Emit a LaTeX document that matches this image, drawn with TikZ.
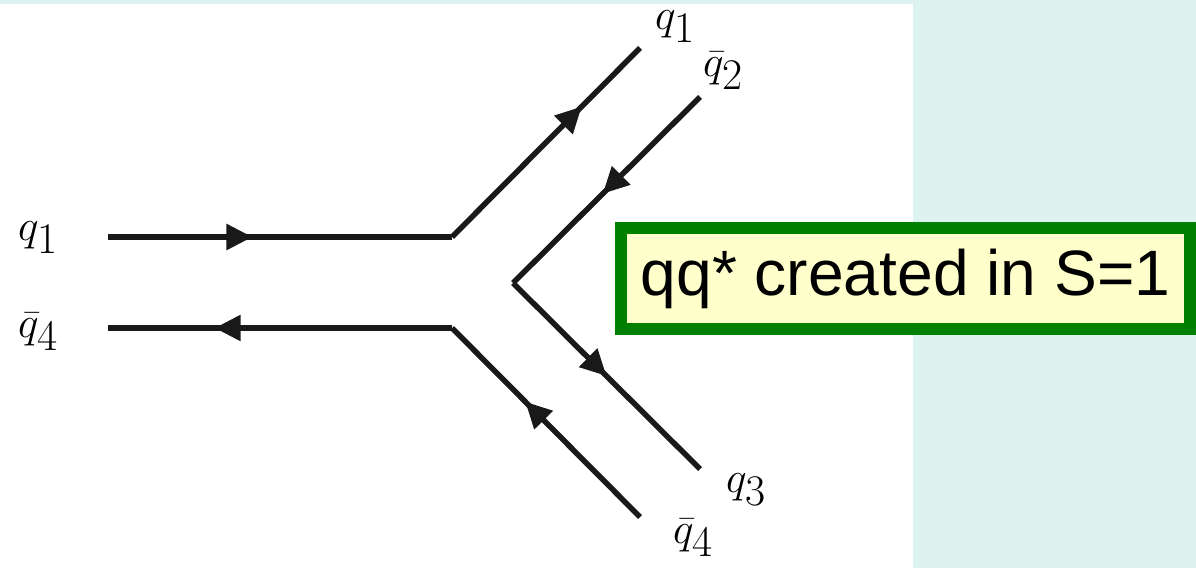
\documentclass[tikz,border=0pt]{standalone}
\usepackage{fontspec}
\newfontfamily\boxfont{Liberation Sans}
\usetikzlibrary{arrows.meta,decorations.markings}
\definecolor{panelbg}{HTML}{DDF3F0}
\definecolor{boxgreen}{HTML}{008000}
\definecolor{boxyellow}{HTML}{FFFFCC}

\begin{document}
\begin{tikzpicture}[
    x=0.02cm, y=-0.02cm,
    quark/.style={line width=0.11cm, draw=black!90},
    mid arrow/.style={postaction={decorate}, decoration={markings,
        mark=at position #1 with {\arrow{Triangle[length=0.52cm,width=0.5cm]}}}},
    lbl/.style={font=\fontsize{35}{40}\selectfont, inner sep=0pt},
    callout/.style={draw=boxgreen, line width=0.24cm, fill=boxyellow,
        font=\boxfont\fontsize{36.5}{42}\selectfont, inner sep=0pt,
        minimum width=11.38cm, minimum height=2.02cm}
]

% page and slide panel
\fill[panelbg] (0,0) rectangle (1196,568);
\fill[white] (0,4) rectangle (913,568);

% vertices and free ends
\coordinate (in1) at (108,237);
\coordinate (in4) at (108,328);
\coordinate (vup) at (452,237);
\coordinate (vlo) at (452,328);
\coordinate (vpair) at (513,283);
\coordinate (out1) at (640,48);
\coordinate (out2) at (700,97);
\coordinate (out3) at (700,469);
\coordinate (out4) at (640,517);

\draw[quark, mid arrow=0.42] (in1) -- (vup);
\draw[quark, mid arrow=0.69] (vup) -- (out1);
\draw[quark, mid arrow=0.69] (vlo) -- (in4);
\draw[quark, mid arrow=0.61] (out4) -- (vlo);
\draw[quark, mid arrow=0.52] (out2) -- (vpair);
\draw[quark, mid arrow=0.50] (vpair) -- (out3);

% labels
\node[lbl] (lq1) at (38,238) {$q_1$};
\node[lbl] (lq4) at (38,332) {$\bar q_4$};
\node[lbl] (tq1) at (675,27) {$q_1$};
\node[lbl] (tq2) at (723,71) {$\bar q_2$};
\node[lbl] (bq3) at (746,490) {$q_3$};
\node[lbl] (bq4) at (693,538) {$\bar q_4$};

\node[callout] (note) at (905.5,278.5) {\raisebox{-0.08cm}{qq* created in S=1}};

\end{tikzpicture}
\end{document}
